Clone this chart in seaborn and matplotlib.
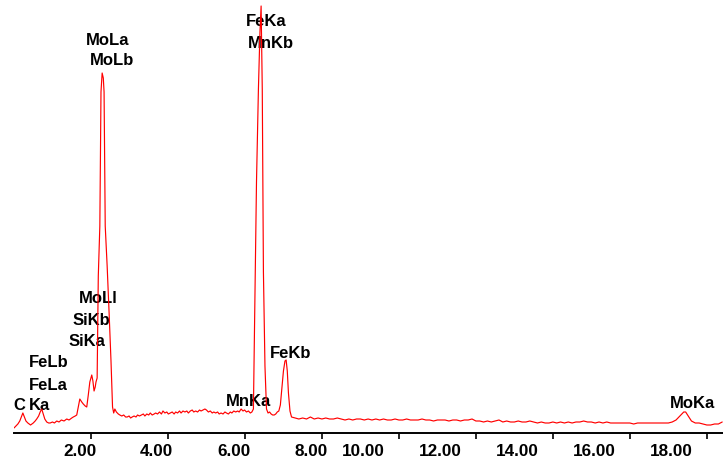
import matplotlib
matplotlib.use("Agg")
import matplotlib.pyplot as plt
import seaborn as sns
import pandas as pd

# EDS spectrum: energy (keV) and counts, split by region
low_kev = [0.00, 0.05, 0.10, 0.15, 0.20, 0.23, 0.27, 0.31, 0.36, 0.43, 0.50, 0.55,
           0.59, 0.64, 0.68, 0.72, 0.76, 0.80, 0.85, 0.90, 0.94, 1.00, 1.05, 1.11,
           1.17, 1.23, 1.30, 1.37, 1.43, 1.50, 1.54, 1.59, 1.63, 1.67, 1.71, 1.76,
           1.80, 1.85, 1.89, 1.93, 1.97, 2.02, 2.05, 2.08, 2.11, 2.13, 2.16]
low_counts = [5, 7, 9, 12, 17, 20, 16, 12, 10, 8, 10, 12,
              14, 17, 21, 24, 19, 14, 11, 10, 10, 11, 10, 12,
              11, 13, 12, 14, 13, 15, 16, 17, 18, 26, 34, 31,
              29, 27, 26, 38, 51, 58, 52, 42, 46, 51, 55]

mol_kev = [2.19, 2.23, 2.26, 2.29, 2.32, 2.34, 2.37, 2.42, 2.47, 2.52, 2.56, 2.59, 2.62]
mol_counts = [157, 207, 341, 360, 355, 341, 207, 167, 121, 72, 26, 20, 24]

mid_kev = [2.66, 2.71, 2.75, 2.80, 2.85, 2.90, 2.94, 2.99, 3.03, 3.07, 3.12, 3.17,
           3.21, 3.26, 3.31, 3.36, 3.40, 3.45, 3.50, 3.54, 3.59, 3.64, 3.68, 3.73,
           3.78, 3.83, 3.87, 3.92, 3.97, 4.01, 4.06, 4.11, 4.16, 4.20, 4.25, 4.30,
           4.34, 4.39, 4.44, 4.49, 4.53, 4.58, 4.63, 4.67, 4.72, 4.77, 4.82, 4.86,
           4.91, 4.96, 5.00, 5.05, 5.10, 5.15, 5.19, 5.24, 5.29, 5.33, 5.38, 5.43,
           5.48, 5.52, 5.57, 5.62, 5.66, 5.71, 5.76, 5.81, 5.85, 5.90, 5.95, 5.99,
           6.04, 6.09, 6.14, 6.18, 6.22]
mid_counts = [21, 19, 18, 17, 18, 16, 16, 17, 15, 16, 17, 16,
              18, 17, 18, 19, 17, 19, 18, 20, 18, 19, 20, 19,
              21, 19, 22, 20, 21, 19, 20, 21, 19, 21, 20, 22,
              20, 22, 21, 22, 20, 22, 23, 21, 22, 21, 23, 22,
              23, 24, 23, 21, 22, 20, 21, 20, 21, 19, 20, 19,
              21, 20, 19, 21, 20, 22, 21, 22, 21, 24, 22, 23,
              21, 22, 20, 21, 24]

fek_kev = [6.26, 6.30, 6.35, 6.39, 6.42, 6.45, 6.48, 6.52, 6.56, 6.60, 6.64, 6.68,
           6.72, 6.76, 6.80, 6.84, 6.88, 6.92, 6.96, 7.00, 7.04, 7.07, 7.10, 7.13,
           7.17, 7.21]
fek_counts = [141, 251, 344, 401, 427, 344, 161, 67, 24, 20, 21, 19,
              18, 18, 19, 21, 22, 28, 45, 62, 72, 73, 62, 40,
              22, 16]

high_kev = [7.3, 7.4, 7.5, 7.6, 7.7, 7.8, 7.9, 8.0, 8.1, 8.2, 8.3, 8.4, 8.5, 8.6,
            8.7, 8.8, 8.9, 9.0, 9.1, 9.2, 9.3, 9.4, 9.5, 9.6, 9.7, 9.8, 9.9, 10.0,
            10.1, 10.2, 10.3, 10.4, 10.5, 10.6, 10.7, 10.8, 10.9, 11.0, 11.1, 11.2,
            11.3, 11.4, 11.5, 11.6, 11.7, 11.8, 11.9, 12.0, 12.1, 12.2, 12.3, 12.4,
            12.5, 12.6, 12.7, 12.8, 12.9, 13.0, 13.1, 13.2, 13.3, 13.4, 13.5, 13.6,
            13.7, 13.8, 13.9, 14.0, 14.1, 14.2, 14.3, 14.4, 14.5, 14.6, 14.7, 14.8,
            14.9, 15.0, 15.1, 15.2, 15.3, 15.4, 15.5, 15.6, 15.7, 15.8, 15.9, 16.0,
            16.1, 16.2, 16.3, 16.4, 16.5, 16.6, 16.7, 16.8, 16.9, 17.0, 17.1, 17.2,
            17.3, 17.4, 17.45, 17.5, 17.6, 17.7, 17.8, 17.9, 18.0, 18.1, 18.2, 18.3,
            18.4]
high_counts = [15, 14, 15, 14, 16, 14, 15, 14, 15, 14, 14, 15, 14, 13,
               14, 13, 14, 14, 13, 14, 13, 14, 13, 14, 13, 13, 14, 13,
               13, 14, 13, 13, 13, 14, 13, 13, 12, 13, 13, 13,
               12, 13, 13, 12, 13, 13, 14, 12, 12, 11, 12, 11,
               12, 13, 11, 12, 11, 11, 12, 11, 11, 12, 11, 10,
               11, 10, 10, 11, 10, 11, 10, 11, 10, 11, 11, 12,
               11, 11, 10, 11, 10, 11, 10, 10, 10, 10, 10, 10,
               9, 10, 10, 10, 10, 10, 10, 10, 10, 10, 11, 13,
               17, 21, 21, 18, 12, 10, 10, 9, 8, 8, 9, 9,
               11]

# peak labels: text, energy of text anchor, baseline height
peak_names = ["FeLb", "FeLa", "Ka", "MoLl", "SiKb", "SiKa", "MoLa", "MoLb",
              "FeKa", "MnKb", "FeKb", "MnKa", "MoKa"]
peak_label_kev = [0.90, 0.88, 0.66, 2.18, 2.00, 1.90, 2.44, 2.545,
                  6.545, 6.675, 7.195, 6.08, 17.64]
peak_label_y = [67, 44, 24, 131, 109, 88, 389, 369, 408, 386, 76, 28, 26]

tick_values = [2, 4, 6, 8, 10, 12, 14, 16, 18]
tick_labels = ["2.00", "4.00", "6.00", "8.00", "10.00", "12.00", "14.00", "16.00", "18.00"]

energy = low_kev + mol_kev + mid_kev + fek_kev + high_kev
counts = low_counts + mol_counts + mid_counts + fek_counts + high_counts
assert len(energy) == len(counts)
df = pd.DataFrame({"energy": energy, "counts": counts})

sns.set_theme(style="white")
plt.rcParams["font.family"] = ["Liberation Sans", "DejaVu Sans"]

fig = plt.figure(figsize=(7.23, 4.64), dpi=100)
ax = fig.add_axes([14 / 723, 30 / 464, 709 / 723, 434 / 464])

sns.lineplot(data=df, x="energy", y="counts", color="#ff0000", linewidth=0.85,
             estimator=None, sort=False, ax=ax, zorder=3)

for name, xk, yk in zip(peak_names, peak_label_kev, peak_label_y):
    ax.text(xk, yk, name, ha="center", va="baseline", fontsize=12,
            fontweight="bold", color="black", zorder=2)
# the carbon label is cut off by the left edge of the plot
ax.text(0.29, 24, "C", ha="right", va="baseline", fontsize=12,
        fontweight="bold", color="black", zorder=2, clip_on=True)

ax.set_xlim(0, 18.42)
ax.set_ylim(0, 434)

# tick marks at the energies, labels drawn a bit to the left as in the original
ax.set_xticks(tick_values)
ax.set_xticklabels([])
label_pos = [t - (0.29 if t < 10 else 0.93) for t in tick_values]
ax.set_xticks(label_pos, minor=True)
ax.set_xticklabels(tick_labels, minor=True, fontsize=12.3, fontweight="bold")
ax.tick_params(axis="x", which="major", direction="out", length=4.5, width=1.2,
               color="black", bottom=True)
ax.tick_params(axis="x", which="minor", length=0, pad=7, labelcolor="black")
ax.set_yticks([])
ax.set_xlabel("")
ax.set_ylabel("")

for side in ["left", "top", "right"]:
    ax.spines[side].set_visible(False)
ax.spines["bottom"].set_color("black")
ax.spines["bottom"].set_linewidth(1.4)

fig.savefig("out.png", dpi=100, facecolor="white")
plt.close(fig)
